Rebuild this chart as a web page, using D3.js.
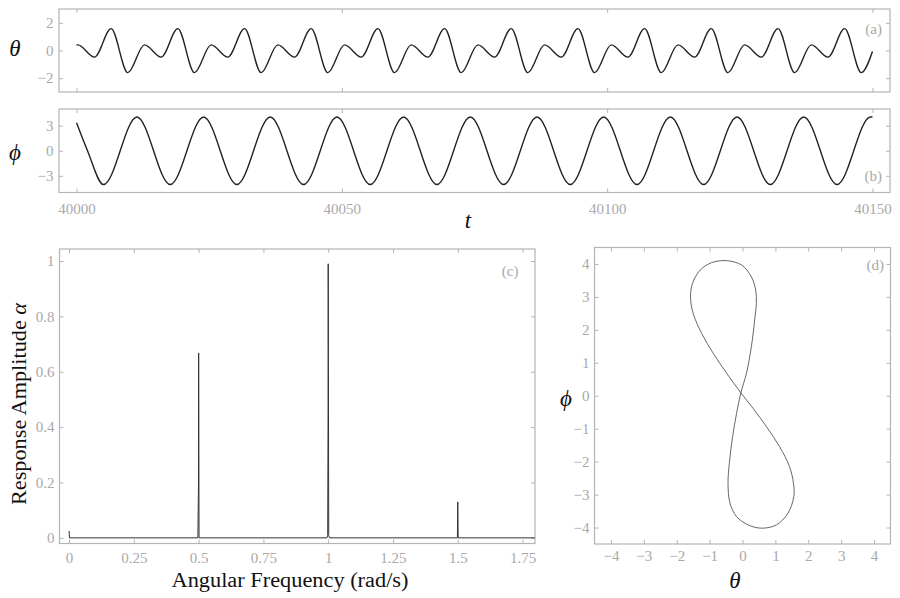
<!DOCTYPE html>
<html><head><meta charset="utf-8">
<script src="https://cdn.jsdelivr.net/npm/d3@7"></script>
<style>
html,body{margin:0;padding:0;background:#fff;}
svg{display:block;}
</style></head>
<body>
<svg id="chart" width="900" height="598"></svg>
<script>
// ---------- DATA ----------
// (a) theta(t): extrema positions and values, plus start/end points
const thetaT = [40000, 40000.24, 40003.38, 40006.52, 40009.66, 40012.81, 40015.95, 40019.09, 40022.23,
  40025.37, 40028.51, 40031.66, 40034.80, 40037.94, 40041.08, 40044.22, 40047.36,
  40050.51, 40053.65, 40056.79, 40059.93, 40063.07, 40066.21, 40069.36, 40072.50,
  40075.64, 40078.78, 40081.92, 40085.06, 40088.20, 40091.35, 40094.49, 40097.63,
  40100.77, 40103.91, 40107.05, 40110.20, 40113.34, 40116.48, 40119.62, 40122.76,
  40125.90, 40129.05, 40132.19, 40135.33, 40138.47, 40141.61, 40144.75, 40147.89, 40150];
const thetaV = [0.40, 0.41, -0.48, 1.58, -1.60, 0.41, -0.48, 1.58, -1.60,
  0.41, -0.48, 1.58, -1.60, 0.41, -0.48, 1.58, -1.60,
  0.41, -0.48, 1.58, -1.60, 0.41, -0.48, 1.58, -1.60,
  0.41, -0.48, 1.58, -1.60, 0.41, -0.48, 1.58, -1.60,
  0.41, -0.48, 1.58, -1.60, 0.41, -0.48, 1.58, -1.60,
  0.41, -0.48, 1.58, -1.60, 0.41, -0.48, 1.58, -1.60, -0.07];
// (b) phi(t)
const phiT = [40000, 40002.07, 40005.09, 40011.38, 40017.66, 40023.95, 40030.22, 40036.51, 40042.79,
  40049.08, 40055.35, 40061.64, 40067.92, 40074.21, 40080.49, 40086.78, 40093.05,
  40099.34, 40105.62, 40111.91, 40118.18, 40124.47, 40130.75, 40137.04, 40143.32, 40149.61, 40150];
const phiV = [3.35, 0.0, -4.05, 4.05, -4.05, 4.05, -4.05, 4.05, -4.05,
  4.05, -4.05, 4.05, -4.05, 4.05, -4.05, 4.05, -4.05,
  4.05, -4.05, 4.05, -4.05, 4.05, -4.05, 4.05, -4.05, 4.05, 4.04];
const timeTicks = [40000, 40050, 40100, 40150];
const thetaTicks = [-2, 0, 2];
const phiTicks = [-3, 0, 3];
// (c) spectrum
const freq = [0, 0.0015, 0.497, 0.4995, 0.5, 0.5015, 0.995, 0.998, 0.9995, 1.0, 1.002, 1.005, 1.4985, 1.5, 1.5015, 1.797];
const amp  = [0.025, 0, 0, 0.2, 0.668, 0, 0, 0.008, 0.47, 0.99, 0.008, 0, 0, 0.13, 0, 0];
const freqTicks = [0, 0.25, 0.5, 0.75, 1, 1.25, 1.5, 1.75];
const freqTickLabels = ["0", "0.25", "0.5", "0.75", "1", "1.25", "1.5", "1.75"];
const ampTicks = [0, 0.2, 0.4, 0.6, 0.8, 1];
const ampTickLabels = ["0", "0.2", "0.4", "0.6", "0.8", "1"];
// (d) phase portrait (closed loop)
const phaseTheta = [-0.48, -0.03, 0.27, 0.40, 0.42, 0.37, 0.27, 0.12, -0.05, -0.18, -0.30, -0.40, -0.44, -0.38, -0.18, 0.17,
  0.58, 1.03, 1.38, 1.56, 1.55, 1.43, 1.13, 0.73, 0.32, -0.05, -0.48, -0.89, -1.24, -1.50, -1.58, -1.52, -1.29, -0.94];
const phasePhi = [4.10, 3.97, 3.61, 3.21, 2.80, 2.30, 1.49, 0.68, 0.09, -0.53, -1.24, -2.05, -2.66, -3.26, -3.67, -3.92,
  -4.02, -3.92, -3.57, -3.06, -2.66, -2.15, -1.55, -0.94, -0.38, 0.09, 0.68, 1.29, 1.89, 2.50, 3.00, 3.41, 3.81, 4.04];
const phaseTicks = [-4, -3, -2, -1, 0, 1, 2, 3, 4];

// ---------- DRAWING ----------
const svg = d3.select("#chart");
const FONT = "'Liberation Serif','DejaVu Serif',serif";
const GRAY = "#a9a9a9";
const FRAME = "#b4b4b4";
const minus = s => String(s).replace("-", "\u2212");

const A = {x0: 59, x1: 890, y0: 9, y1: 92};
const B = {x0: 59, x1: 890, y0: 109, y1: 192.5};
const C = {x0: 59.5, x1: 535, y0: 249, y1: 543.5};
const D = {x0: 594.5, x1: 890.5, y0: 247.5, y1: 544};

const xT = d3.scaleLinear([39996.7, 40153.3], [A.x0, A.x1]);
const yA = d3.scaleLinear([-3, 3], [A.y1, A.y0]);
const yB = d3.scaleLinear([-5, 5], [B.y1, B.y0]);
const xC = d3.scaleLinear([-0.037, 1.798], [C.x0, C.x1]);
const yC = d3.scaleLinear([-0.0204, 1.0434], [C.y1, C.y0]);
const xD = d3.scaleLinear([-4.5, 4.5], [D.x0, D.x1]);
const yD = d3.scaleLinear([-4.5, 4.5], [D.y1, D.y0]);

const defs = svg.append("defs");
function clip(id, P) {
  defs.append("clipPath").attr("id", id).append("rect")
    .attr("x", P.x0).attr("y", P.y0).attr("width", P.x1 - P.x0).attr("height", P.y1 - P.y0);
  return "url(#" + id + ")";
}

function styleAxis(g) {
  g.select(".domain").remove();
  g.selectAll("line").attr("stroke", FRAME).attr("stroke-width", 1);
  g.selectAll("text").attr("fill", GRAY).style("font-family", FONT).style("font-size", "15px");
}

function panel(P, x, y, xt, yt, xfmt, yfmt, showX, padX, padY) {
  const g = svg.append("g");
  const TS = -4;
  g.append("g").attr("transform", `translate(0,${P.y1})`)
    .call(d3.axisBottom(x).tickValues(xt).tickSizeInner(TS).tickSizeOuter(0).tickPadding(padX)
      .tickFormat(showX ? xfmt : () => "")).call(styleAxis);
  g.append("g").attr("transform", `translate(0,${P.y0})`)
    .call(d3.axisTop(x).tickValues(xt).tickSizeInner(TS).tickSizeOuter(0).tickFormat(() => "")).call(styleAxis);
  g.append("g").attr("transform", `translate(${P.x0},0)`)
    .call(d3.axisLeft(y).tickValues(yt).tickSizeInner(TS).tickSizeOuter(0).tickPadding(padY)
      .tickFormat(yfmt)).call(styleAxis);
  g.append("g").attr("transform", `translate(${P.x1},0)`)
    .call(d3.axisRight(y).tickValues(yt).tickSizeInner(TS).tickSizeOuter(0).tickFormat(() => "")).call(styleAxis);
  g.append("rect").attr("x", P.x0).attr("y", P.y0).attr("width", P.x1 - P.x0).attr("height", P.y1 - P.y0)
    .attr("fill", "none").attr("stroke", FRAME).attr("stroke-width", 1.2);
  return g;
}

// (a)
panel(A, xT, yA, timeTicks, thetaTicks, null, d => minus(d), false, 10, 5.5);
svg.append("path").datum(d3.zip(thetaT, thetaV)).attr("clip-path", clip("ca", A))
  .attr("d", d3.line().x(d => xT(d[0])).y(d => yA(d[1])).curve(d3.curveMonotoneX))
  .attr("fill", "none").attr("stroke", "#222").attr("stroke-width", 1.4);

// (b)
panel(B, xT, yB, timeTicks, phiTicks, d => String(d), d => minus(d), true, 11, 5.5);
svg.append("path").datum(d3.zip(phiT, phiV)).attr("clip-path", clip("cb", B))
  .attr("d", d3.line().x(d => xT(d[0])).y(d => yB(d[1])).curve(d3.curveMonotoneX))
  .attr("fill", "none").attr("stroke", "#222").attr("stroke-width", 1.4);

// (c)
panel(C, xC, yC, freqTicks, ampTicks, (d, i) => freqTickLabels[i], (d, i) => ampTickLabels[i], true, 8.5, 5);
svg.append("path").datum(d3.zip(freq, amp)).attr("clip-path", clip("cc", C))
  .attr("d", d3.line().x(d => xC(d[0])).y(d => yC(d[1])))
  .attr("fill", "none").attr("stroke", "#333").attr("stroke-width", 1);

// (d)
panel(D, xD, yD, phaseTicks, phaseTicks, d => minus(d), d => minus(d), true, 6, 5);
svg.append("path").datum(d3.zip(phaseTheta, phasePhi)).attr("clip-path", clip("cd", D))
  .attr("d", d3.line().x(d => xD(d[0])).y(d => yD(d[1])).curve(d3.curveCatmullRomClosed.alpha(0.5)))
  .attr("fill", "none").attr("stroke", "#555").attr("stroke-width", 0.9);

// panel tags
const tags = [["(a)", 882, 34], ["(b)", 882, 181], ["(c)", 518.5, 276], ["(d)", 884, 270]];
svg.selectAll("text.tag").data(tags).join("text").attr("class", "tag")
  .attr("x", d => d[1]).attr("y", d => d[2]).attr("text-anchor", "end")
  .style("font-family", FONT).style("font-size", "15px").attr("fill", GRAY).text(d => d[0]);

// axis titles
function title(txt, x, y, size, italic, rot, len) {
  const t = svg.append("text").attr("text-anchor", "middle")
    .attr("transform", `translate(${x},${y})` + (rot ? ` rotate(${rot})` : ""))
    .style("font-family", FONT).style("font-size", size + "px").attr("fill", "#111")
    .style("font-style", italic ? "italic" : "normal").text(txt);
  if (len) t.attr("textLength", len).attr("lengthAdjust", "spacingAndGlyphs");
  return t;
}
title("\u03b8", 15, 56, 23, true);
title("\u03d5", 15, 160, 23, true);
title("t", 468, 228, 23, true);
title("Angular Frequency (rad/s)", 290, 586.5, 20, false, 0, 237);
title("Response Amplitude ", 26, 404, 20, false, -90, 202).text(null)
  .call(t => { t.append("tspan").text("Response Amplitude "); t.append("tspan").style("font-style", "italic").text("\u03b1"); });
title("\u03b8", 735, 588, 23, true);
title("\u03d5", 566, 406, 23, true);
</script>
</body></html>
